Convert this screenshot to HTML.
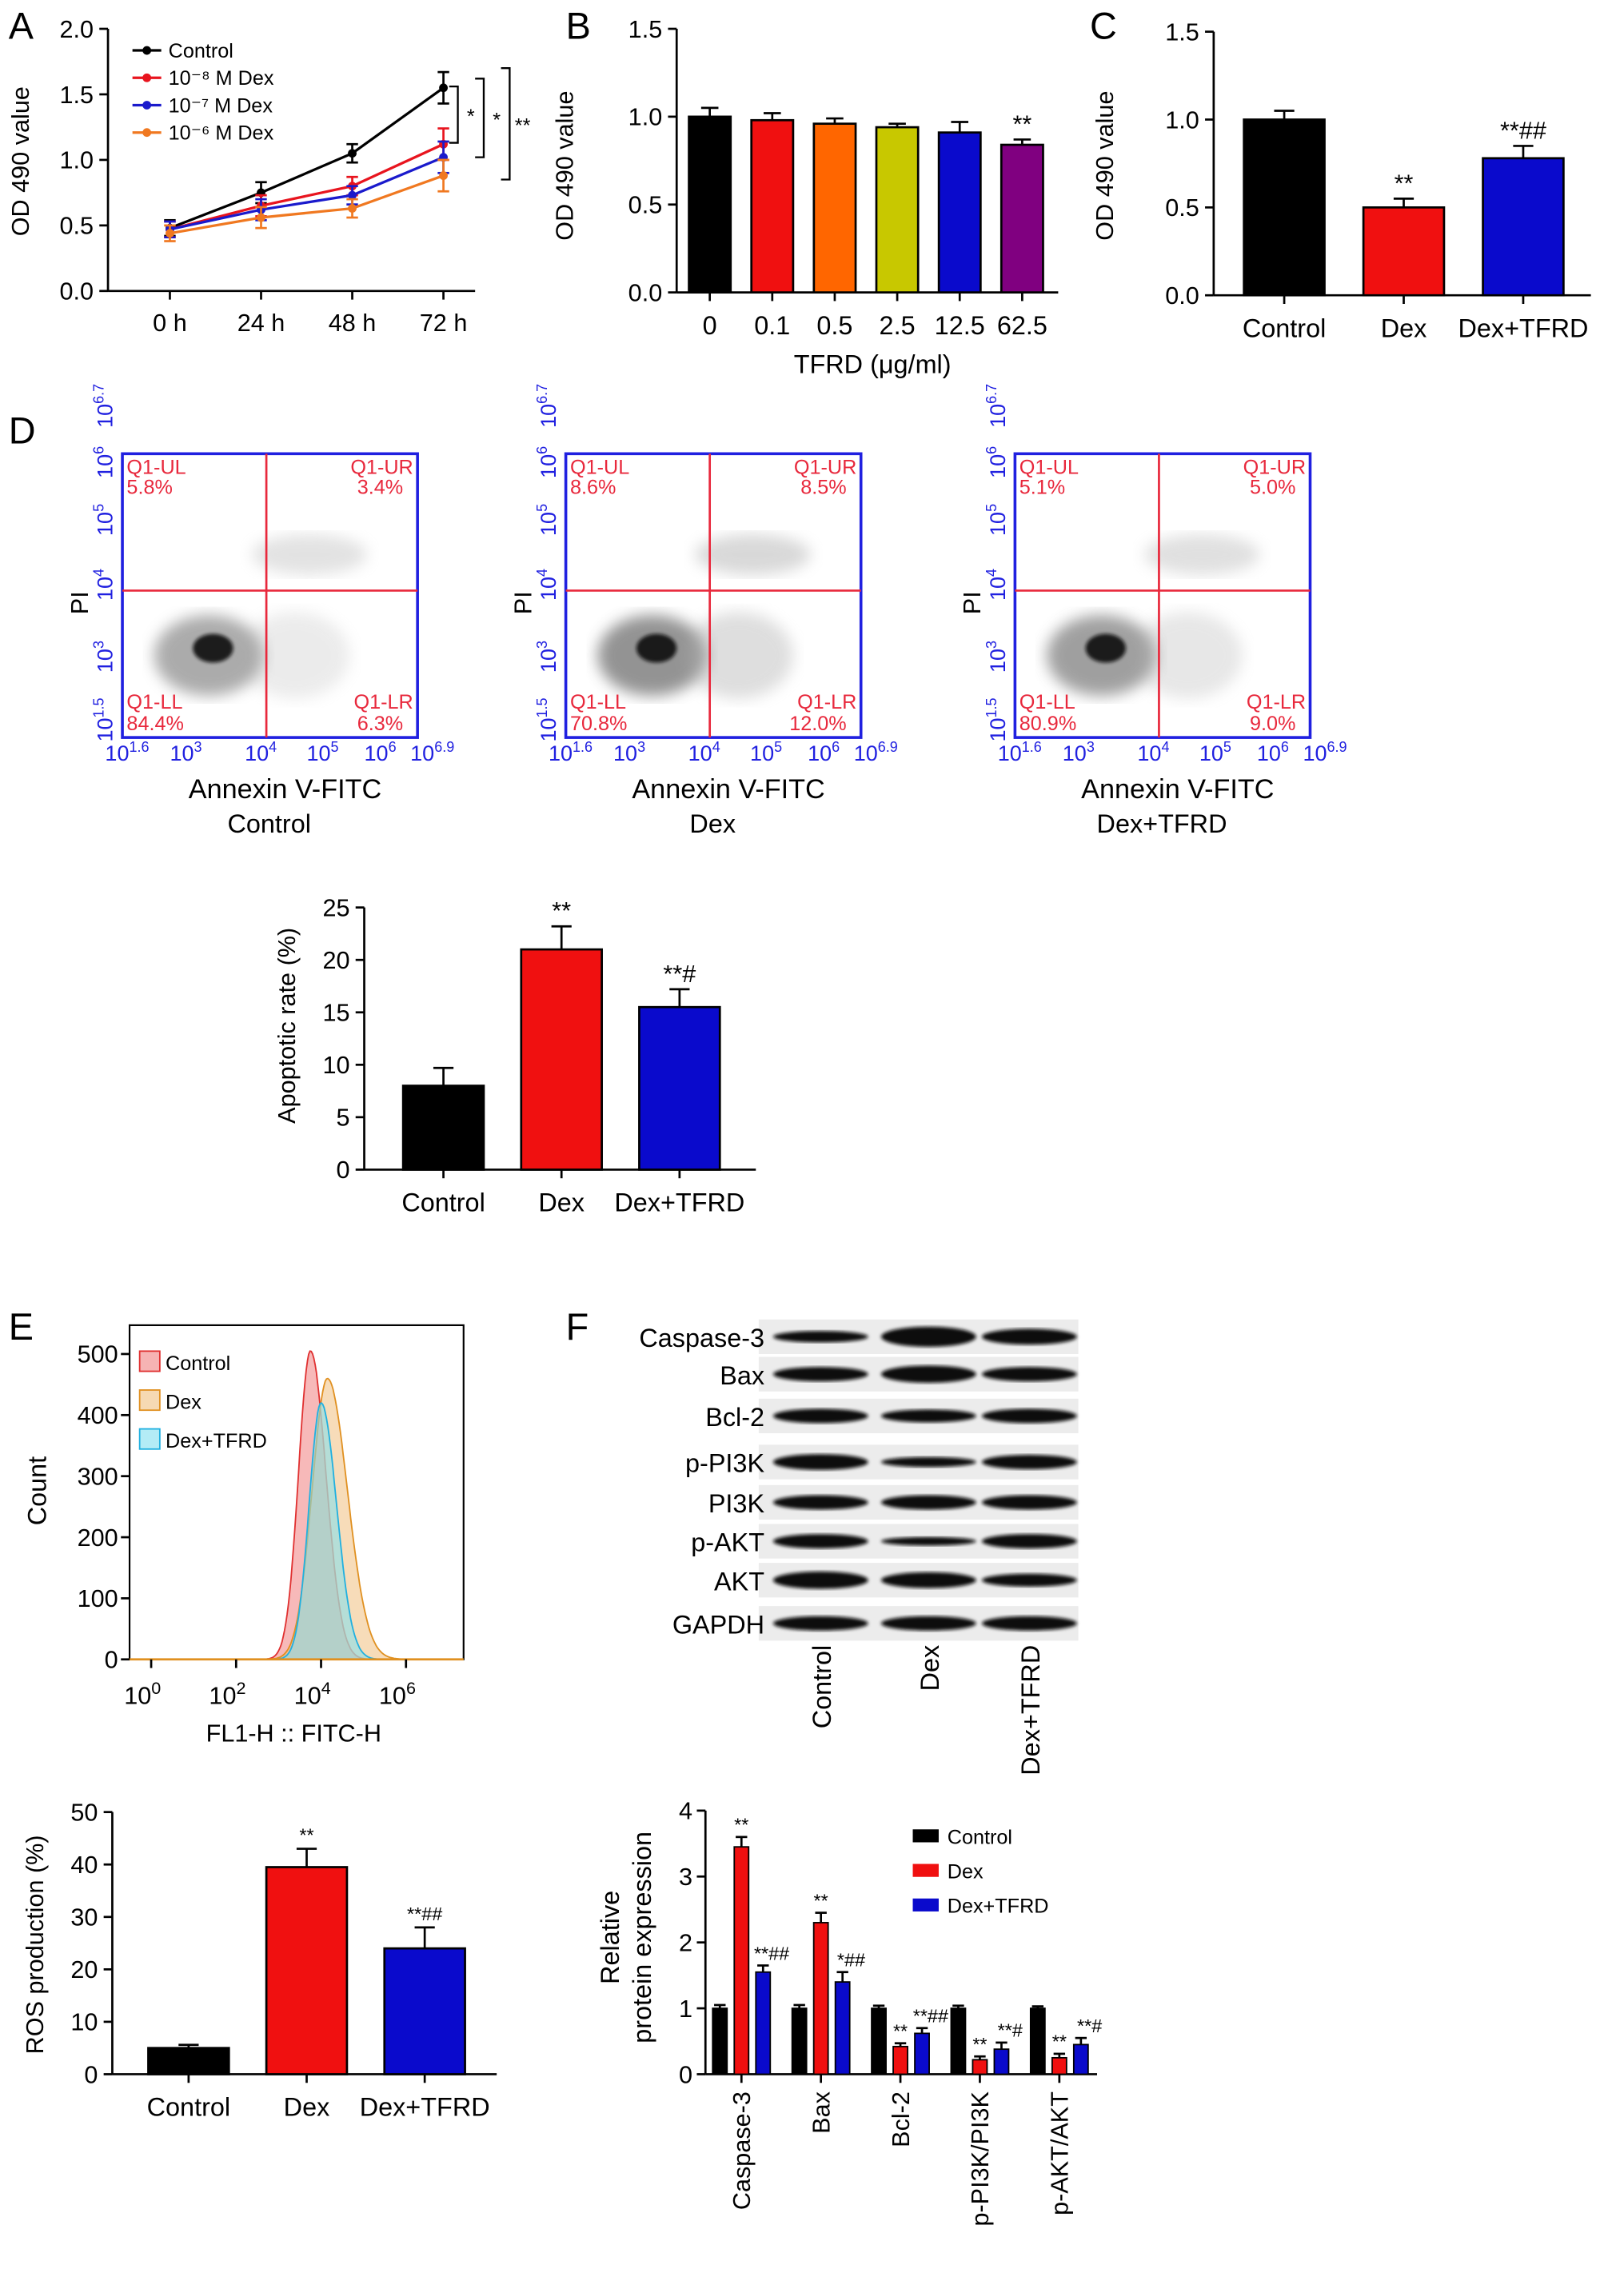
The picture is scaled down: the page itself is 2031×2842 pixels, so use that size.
<!DOCTYPE html>
<html><head><meta charset="utf-8">
<style>
html,body{margin:0;padding:0;background:#fff;}
svg{display:block;font-family:"Liberation Sans",Arial,sans-serif;}
</style></head>
<body>
<svg id="fig" width="2031" height="2842" viewBox="0 0 1128 1578" preserveAspectRatio="none" xmlns="http://www.w3.org/2000/svg">
<defs>
<filter id="blur3"><feGaussianBlur stdDeviation="5"/></filter>
<filter id="blur1"><feGaussianBlur stdDeviation="1.2"/></filter>
</defs>
<g id="root"></g>
</svg>
<script>
// ---------- DATA ----------
const aCats = ['0 h','24 h','48 h','72 h'];
const aControl = [0.48,0.75,1.05,1.55];
const aDex8 = [0.47,0.65,0.80,1.12];
const aDex7 = [0.47,0.62,0.73,1.02];
const aDex6 = [0.44,0.56,0.63,0.88];
const aErr = [0.06,0.08,0.07,0.12];
const aTicks = ['0.0','0.5','1.0','1.5','2.0'];

const bCats = ['0','0.1','0.5','2.5','12.5','62.5'];
const bVals = [1.00,0.98,0.96,0.94,0.91,0.84];
const bErr = [0.05,0.04,0.03,0.02,0.06,0.03];
const bTicks = ['0.0','0.5','1.0','1.5'];

const cCats = ['Control','Dex','Dex+TFRD'];
const cVals = [1.00,0.50,0.78];
const cErr = [0.05,0.05,0.07];
const cSig = ['','**','**##'];

const flowNames = ['Control','Dex','Dex+TFRD'];
const flowUL = ['5.8%','8.6%','5.1%'];
const flowUR = ['3.4%','8.5%','5.0%'];
const flowLL = ['84.4%','70.8%','80.9%'];
const flowLR = ['6.3%','12.0%','9.0%'];

const apCats = ['Control','Dex','Dex+TFRD'];
const apVals = [8.0,21.0,15.5];
const apErr = [1.7,2.2,1.7];
const apSig = ['','**','**#'];
const apTicks = [0,5,10,15,20,25];

const histNames = ['Control','Dex','Dex+TFRD'];
const histPeakLog = [3.75,4.15,4.0];
const histPeakCount = [505,460,420];
const histWidth = [0.28,0.36,0.28];
const histTicks = [0,100,200,300,400,500];

const rosCats = ['Control','Dex','Dex+TFRD'];
const rosVals = [5,39.5,24];
const rosErr = [0.6,3.5,4];
const rosSig = ['','**','**##'];
const rosTicks = [0,10,20,30,40,50];

const blotLabels = ['Caspase-3','Bax','Bcl-2','p-PI3K','PI3K','p-AKT','AKT','GAPDH'];
const blotLanes = ['Control','Dex','Dex+TFRD'];

const fCats = ['Caspase-3','Bax','Bcl-2','p-PI3K/PI3K','p-AKT/AKT'];
const fControl = [1,1,1,1,1];
const fDex = [3.45,2.3,0.42,0.22,0.25];
const fTfrd = [1.55,1.4,0.62,0.38,0.45];
const fErrC = [0.05,0.05,0.04,0.04,0.03];
const fErrD = [0.15,0.15,0.05,0.05,0.06];
const fErrT = [0.1,0.15,0.08,0.1,0.1];
const fSigD = ['**','**','**','**','**'];
const fSigT = ['**##','*##','**##','**#','**#'];
const fTicks = [0,1,2,3,4];

// ---------- HELPERS ----------
const NS='http://www.w3.org/2000/svg';
const root=document.getElementById('root');
function mk(tag,attrs,name,parent){
  const e=document.createElementNS(NS,tag);
  for(const k in attrs) e.setAttribute(k,attrs[k]);
  
  
  (parent||root).appendChild(e);
  return e;
}
function txt(x,y,s,size,name,opts){
  opts=opts||{};
  const t=mk('text',{x:x,y:y,'font-size':size,'text-anchor':opts.anchor||'middle',fill:opts.fill||'#000'},name);
  if(opts.rot!==undefined) t.setAttribute('transform','rotate('+opts.rot+' '+x+' '+y+')');
  if(opts.weight) t.setAttribute('font-weight',opts.weight);
  t.textContent=s;
  return t;
}
function line(x1,y1,x2,y2,name,col,w){
  return mk('line',{x1:x1,y1:y1,x2:x2,y2:y2,stroke:col||'#000','stroke-width':w||1.5},name);
}
function errbar(x,yTop,yErr,name,cap){
  line(x,yTop,x,yErr,name);
  line(x-(cap||6),yErr,x+(cap||6),yErr,name+'-cap');
}
function panelLetter(x,y,s){txt(x,y,s,26,'panel-label-'+s.toLowerCase(),{anchor:'start'});}

// ---------- PANEL A ----------
panelLetter(6,27,'A');
(function(){
  const x0=75,yb=202,yt=20,ymax=2.0;
  const Y=v=>yb-(v/ymax)*(yb-yt);
  const xs=[118,182,245,308];
  const X=i=>xs[0]+i*(xs[3]-xs[0])/(aCats.length-1);
  line(x0,yt,x0,yb,'a-y-axis');
  line(x0,yb,330,yb,'a-x-axis');
  aTicks.forEach((t,i)=>{const v=parseFloat(t);line(x0-6,Y(v),x0,Y(v),'a-y-tick');txt(x0-10,Y(v)+6,t,17,'a-y-tick-label',{anchor:'end'});});
  aCats.forEach((c,i)=>{line(X(i),yb,X(i),yb+6,'a-x-tick');txt(X(i),yb+28,c,17,'a-x-tick-label');});
  txt(20,112,'OD 490 value',17,'a-y-axis-title',{rot:-90});
  const series=[[aControl,'#000','control'],[aDex8,'#e8141e','dex-1e-8'],[aDex7,'#1a1acc','dex-1e-7'],[aDex6,'#f07820','dex-1e-6']];
  series.forEach(([vals,col,n])=>{
    let d='';vals.forEach((v,i)=>{d+=(i?'L':'M')+X(i)+' '+Y(v);});
    mk('path',{d:d,fill:'none',stroke:col,'stroke-width':1.8},'a-line-'+n);
    vals.forEach((v,i)=>{
      const e=aErr[i];
      const l1=line(X(i),Y(v-e),X(i),Y(v+e),'a-errorbar-'+n,col,1.5);
      line(X(i)-4,Y(v+e),X(i)+4,Y(v+e),'a-errorcap-'+n,col,1.5);
      line(X(i)-4,Y(v-e),X(i)+4,Y(v-e),'a-errorcap-'+n,col,1.5);
      mk('circle',{cx:X(i),cy:Y(v),r:3,fill:col},'a-point-'+n);
    });
  });
  const leg=[['Control','#000'],['10⁻⁸ M Dex','#e8141e'],['10⁻⁷ M Dex','#1a1acc'],['10⁻⁶ M Dex','#f07820']];
  leg.forEach(([l,c],i)=>{const y=35+i*19;line(92,y,112,y,'a-legend-line',c,1.8);mk('circle',{cx:102,cy:y,r:3,fill:c},'a-legend-marker');txt(117,y+5,l,14,'a-legend-entry',{anchor:'start'});});
  // brackets
  const br=[[Y(1.55),Y(1.12),318,330,'*'],[Y(1.55),Y(1.02),340,354,'*'],[Y(1.55),Y(0.88),350,375,'**']];
  [[318,Y(1.56),Y(1.13),'*'],[336,Y(1.62),Y(1.02),'*'],[354,Y(1.7),Y(0.85),'**']].forEach(([x,a,b,s],i)=>{
    mk('path',{d:'M'+(x-6)+' '+a+'H'+x+'V'+b+'H'+(x-6),fill:'none',stroke:'#000','stroke-width':1.3},'a-sig-bracket');
    txt(x+9,(a+b)/2+6,s,14,'a-sig-label');
  });
})();

// generic bar chart
function barChart(p){
  const Y=v=>p.yb-(v/p.ymax)*(p.yb-p.yt);
  line(p.x0,p.yt,p.x0,p.yb,p.id+'-y-axis');
  line(p.x0,p.yb,p.xend,p.yb,p.id+'-x-axis');
  p.ticks.forEach(t=>{const v=parseFloat(t);line(p.x0-6,Y(v),p.x0,Y(v),p.id+'-y-tick');txt(p.x0-10,Y(v)+6,String(t),17,p.id+'-y-tick-label',{anchor:'end'});});
  p.vals.forEach((v,i)=>{
    const cx=p.xs0+i*p.step;
    const top=Y(v+p.err[i]);
    errbar(cx,Y(v),top,p.id+'-errorbar-'+i,p.cap||7);
    mk('rect',{x:cx-p.bw/2,y:Y(v),width:p.bw,height:p.yb-Y(v),fill:p.colors[i],stroke:'#000','stroke-width':1.5},p.id+'-bar-'+p.cats[i].toLowerCase().replace(/[^a-z0-9]+/g,'-'));
    line(cx,p.yb,cx,p.yb+6,p.id+'-x-tick');
    txt(cx,p.yb+29,p.cats[i],18,p.id+'-x-tick-label');
    if(p.sig&&p.sig[i]) txt(cx,top-5,p.sig[i],p.sigSize||17,p.id+'-sig-label');
  });
}

// ---------- PANEL B ----------
panelLetter(393,27,'B');
barChart({id:'b',x0:470,xend:735,yb:203,yt:20,ymax:1.5,ticks:bTicks,vals:bVals,err:bErr,cats:bCats,xs0:493,step:43.4,bw:29,colors:['#000','#f01010','#ff6600','#c8c800','#0a0acc','#800080'],sig:['','','','','','**'],cap:6});
txt(398,115,'OD 490 value',17,'b-y-axis-title',{rot:-90});
txt(606,259,'TFRD (μg/ml)',18,'b-x-axis-title');

// ---------- PANEL C ----------
panelLetter(757,27,'C');
barChart({id:'c',x0:843,xend:1105,yb:205,yt:22,ymax:1.5,ticks:bTicks,vals:cVals,err:cErr,cats:cCats,xs0:892,step:83,bw:56,colors:['#000','#f01010','#0a0acc'],sig:cSig});
txt(773,115,'OD 490 value',17,'c-y-axis-title',{rot:-90});

// ---------- PANEL D flow ----------
panelLetter(6,308,'D');
const flowX=[85,393,705];
const clouds=[[[0,0.7],[0.35,0.55],[0.3,0.32]],[[0,0.9],[0.6,0.75],[0.6,0.55]],[[0,0.8],[0.4,0.6],[0.45,0.4]]];
flowNames.forEach((n,k)=>{
  const x=flowX[k],y=315,w=205,h=197,id='d-flow-'+k;
  const g=mk('g',{},id+'-plot');
  // clouds
  mk('ellipse',{cx:x+60,cy:y+140,rx:38,ry:28,fill:'#888',opacity:clouds[k][0][1],filter:'url(#blur3)'},id+'-cloud-ll',g);
  mk('ellipse',{cx:x+63,cy:y+135,rx:14,ry:10,fill:'#111',opacity:0.9,filter:'url(#blur1)'},id+'-cloud-core',g);
  mk('ellipse',{cx:x+130,cy:y+70,rx:40,ry:14,fill:'#aaa',opacity:clouds[k][1][1]*0.6,filter:'url(#blur3)'},id+'-cloud-ur',g);
  mk('ellipse',{cx:x+120,cy:y+140,rx:38,ry:30,fill:'#aaa',opacity:clouds[k][2][1]*0.7,filter:'url(#blur3)'},id+'-cloud-lr',g);
  mk('rect',{x:x,y:y,width:w,height:h,fill:'none',stroke:'#2020e0','stroke-width':2},id+'-frame');
  line(x+100,y,x+100,y+h,id+'-gate-v','#e8283c',1.5);
  line(x,y+95,x+w,y+95,id+'-gate-h','#e8283c',1.5);
  const red='#e8283c';
  txt(x+3,y+14,'Q1-UL',14,id+'-q-ul',{anchor:'start',fill:red});
  txt(x+3,y+28,flowUL[k],14,id+'-q-ul-value',{anchor:'start',fill:red});
  txt(x+w-3,y+14,'Q1-UR',14,id+'-q-ur',{anchor:'end',fill:red});
  txt(x+w-10,y+28,flowUR[k],14,id+'-q-ur-value',{anchor:'end',fill:red});
  txt(x+3,y+h-20,'Q1-LL',14,id+'-q-ll',{anchor:'start',fill:red});
  txt(x+3,y+h-5,flowLL[k],14,id+'-q-ll-value',{anchor:'start',fill:red});
  txt(x+w-3,y+h-20,'Q1-LR',14,id+'-q-lr',{anchor:'end',fill:red});
  txt(x+w-10,y+h-5,flowLR[k],14,id+'-q-lr-value',{anchor:'end',fill:red});
  const blue='#2020e0';
  const xt=[['1.6',0],['3',45],['4',97],['5',140],['6',180],['6.9',212]];
  xt.forEach(([e,dx])=>{const t=txt(x-12+dx,y+h+16,'10',15,id+'-x-tick-label',{anchor:'start',fill:blue});const s=document.createElementNS(NS,'tspan');s.setAttribute('dy','-6');s.setAttribute('font-size','10');s.textContent=e;t.appendChild(s);});
  const yt=[['1.5',h+3],['3',h-45],['4',h-95],['5',h-140],['6',h-180],['6.7',h-215]];
  yt.forEach(([e,dy])=>{const t=txt(x-7,y+dy,'10',15,id+'-y-tick-label',{anchor:'start',fill:blue,rot:-90});const s=document.createElementNS(NS,'tspan');s.setAttribute('dy','-6');s.setAttribute('font-size','10');s.textContent=e;t.appendChild(s);});
  txt(x-24,y+h/2+5,'PI',17,id+'-y-axis-title',{rot:-90});
  txt(x+113,y+h+42,'Annexin V-FITC',19,id+'-x-axis-title');
  txt(x+102,y+h+66,n,18,id+'-group-label');
});

// ---------- apoptosis bar ----------
barChart({id:'d-apoptosis',x0:253,xend:525,yb:812,yt:630,ymax:25,ticks:apTicks,vals:apVals,err:apErr,cats:apCats,xs0:308,step:82,bw:56,colors:['#000','#f01010','#0a0acc'],sig:apSig});
txt(205,712,'Apoptotic rate (%)',17,'d-apoptosis-y-axis-title',{rot:-90});

// ---------- PANEL E histogram ----------
panelLetter(6,930,'E');
(function(){
  const x0=90,x1=322,yb=1152,yt=920,yTop=940;
  const X=l=>105+l*29.5;
  const Y=c=>yb-c*(yb-yTop)/500;
  mk('rect',{x:x0,y:yt,width:x1-x0,height:yb-yt,fill:'none',stroke:'#000','stroke-width':1.2},'e-plot-frame');
  const cols=[['#f08080','#e03030'],['#f0c080','#e09020'],['#80e0f0','#20b0e0']];
  histNames.forEach((n,k)=>{
    let d='M'+X(2)+' '+yb;
    for(let l=2;l<=7;l+=0.03){
      const z=(l-histPeakLog[k])/histWidth[k];
      const s=z>0?1.3:1;
      const c=histPeakCount[k]*Math.exp(-0.5*(z/s)*(z/s));
      d+='L'+X(l).toFixed(1)+' '+Y(c).toFixed(1);
    }
    d+='L'+X(7)+' '+yb+'Z';
    mk('path',{d:d,fill:cols[k][0],'fill-opacity':0.55,stroke:cols[k][1],'stroke-width':1},'e-histogram-'+n.toLowerCase().replace(/[^a-z]+/g,'-'));
  });
  line(x0,yb,x1,yb,'e-baseline','#e09020',1.5);
  histTicks.forEach(t=>{line(x0-6,Y(t),x0,Y(t),'e-y-tick');txt(x0-8,Y(t)+6,String(t),17,'e-y-tick-label',{anchor:'end'});});
  [0,2,4,6].forEach(e=>{const t=txt(X(e)-6,yb+31,'10',17,'e-x-tick-label');const s=document.createElementNS(NS,'tspan');s.setAttribute('dy','-7');s.setAttribute('font-size','12');s.textContent=e;t.appendChild(s);line(X(e),yb,X(e),yb+6,'e-x-tick');});
  txt(32,1035,'Count',18,'e-y-axis-title',{rot:-90});
  txt(204,1209,'FL1-H :: FITC-H',17,'e-x-axis-title');
  histNames.forEach((n,k)=>{const y=945+k*27;mk('rect',{x:97,y:y-7,width:14,height:14,fill:cols[k][0],'fill-opacity':0.6,stroke:cols[k][1]},'e-legend-swatch');txt(115,y+6,n,14,'e-legend-entry',{anchor:'start'});});
})();

// ROS bar
barChart({id:'e-ros',x0:78,xend:345,yb:1440,yt:1258,ymax:50,ticks:rosTicks,vals:rosVals,err:rosErr,cats:rosCats,xs0:131,step:82,bw:56,colors:['#000','#f01010','#0a0acc'],sig:rosSig,sigSize:13});
txt(30,1350,'ROS production (%)',17,'e-ros-y-axis-title',{rot:-90});

// ---------- PANEL F blots ----------
panelLetter(393,930,'F');
(function(){
  const rows=[928,954,983,1015,1043,1070,1097,1127];
  const lanes=[570,645,715];
  const widths=[[0.8,1.4,1.1],[1,1.2,1],[1,0.9,1],[1.1,0.7,1],[1,1,1],[1,0.6,1],[1.2,1.1,0.9],[1,1,1]];
  rows.forEach((y,r)=>{
    mk('rect',{x:527,y:y-12,width:222,height:24,fill:'#ececec'},'f-blot-strip-'+r);
    lanes.forEach((lx,i)=>{
      mk('ellipse',{cx:lx,cy:y,rx:33,ry:5*widths[r][i],fill:'#111',filter:'url(#blur1)'},'f-blot-band');
    });
    txt(531,y+7,blotLabels[r],18,'f-blot-label',{anchor:'end'});
  });
  blotLanes.forEach((n,i)=>{txt(lanes[i]+7,1142,n,18,'f-lane-label',{anchor:'end',rot:-90});});
})();

// F bar chart
(function(){
  const x0=490,yb=1440,yt=1257,ymax=4;
  const Y=v=>yb-(v/ymax)*(yb-yt);
  line(x0,yt,x0,yb,'f-y-axis');
  line(x0,yb,762,yb,'f-x-axis');
  fTicks.forEach(t=>{line(x0-6,Y(t),x0,Y(t),'f-y-tick');txt(x0-9,Y(t)+6,String(t),17,'f-y-tick-label',{anchor:'end'});});
  const cols=['#000','#f01010','#0a0acc'];
  const sets=[[fControl,fErrC,null],[fDex,fErrD,fSigD],[fTfrd,fErrT,fSigT]];
  fCats.forEach((c,i)=>{
    const cx=515+i*55.2;
    sets.forEach(([vals,errs,sig],k)=>{
      const bx=cx+(k-1)*15;
      const v=vals[i];
      errbar(bx,Y(v),Y(v+errs[i]),'f-errorbar',4);
      mk('rect',{x:bx-5,y:Y(v),width:10,height:yb-Y(v),fill:cols[k],stroke:'#000','stroke-width':1},'f-bar-'+k+'-'+i);
      if(sig) txt(bx+(k==2?6:0),Y(v+errs[i])-4,sig[i],13,'f-sig-label');
    });
    line(cx,yb,cx,yb+6,'f-x-tick');
    txt(cx+6,yb+12,c,17,'f-x-tick-label',{anchor:'end',rot:-90});
  });
  txt(430,1345,'Relative',18,'f-y-axis-title-1',{rot:-90});
  txt(452,1345,'protein expression',18,'f-y-axis-title-2',{rot:-90});
  ['Control','Dex','Dex+TFRD'].forEach((n,k)=>{const y=1275+k*24;mk('rect',{x:634,y:y-5,width:18,height:9,fill:cols[k]},'f-legend-swatch');txt(658,y+5,n,14,'f-legend-entry',{anchor:'start'});});
})();
</script>
</body></html>
